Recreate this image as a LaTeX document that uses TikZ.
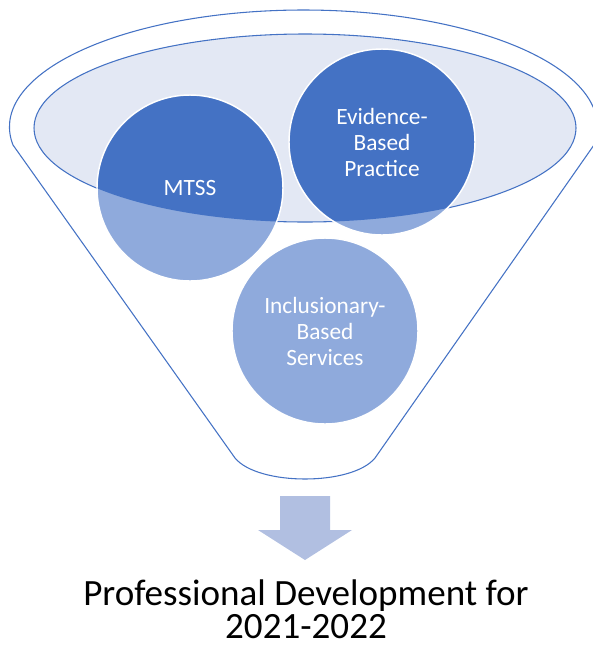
\documentclass[tikz,border=0pt]{standalone}
\usepackage{fontspec}
\setmainfont{Carlito}
\usetikzlibrary{backgrounds}
\definecolor{deepblue}{HTML}{4472C4}
\definecolor{softblue}{HTML}{8FAADC}
\definecolor{paleblue}{HTML}{E3E8F4}
\definecolor{arrowblue}{HTML}{B1BFE1}

\begin{document}
\begin{tikzpicture}[x=0.75pt, y=-0.75pt]
  \tikzstyle{bubble} = [circle, draw=white, line width=1.1pt, minimum size=139.5pt,
                        inner sep=0pt, align=center, text=white,
                        font=\fontsize{17.5}{19.5}\selectfont]
  \tikzstyle{rim} = [draw=deepblue, line width=0.8pt]

\useasboundingbox (0,0) rectangle (593,647);
\node[bubble] (mtss) at (190,188) {MTSS};
\node[bubble, right of=mtss, node distance=144pt, yshift=34.5pt] (ebp) {Evidence-\\Based\\Practice};
\node[bubble, below of=mtss, node distance=107.25pt, xshift=101.25pt] (ibs) {Inclusionary-\\Based\\Services};
\node[inner sep=0pt, align=center, font=\fontsize{27.8}{25}\selectfont] (pd) at (306,609) {Professional Development for\\2021-2022};
\begin{pgfonlayer}{background}
  \draw[rim] (13,145) arc[start angle=171.15, end angle=368.85, x radius=294, y radius=117]
    -- (375,458) .. controls (352,486) and (258,486) .. (235,458) -- cycle;
  \filldraw[rim, fill=paleblue] (305,128) ellipse [x radius=271, y radius=94];
  \foreach \c in {mtss, ebp, ibs}
    \fill[softblue] (\c) circle [radius=93];
  \begin{scope}
    \clip (305,128) ellipse [x radius=271, y radius=94];
    \fill[deepblue] (mtss) circle [radius=93] (ebp) circle [radius=93];
  \end{scope}
  \fill[arrowblue] (280,496) -- (330,496) -- (330,530) -- (352,530) -- (305,560) -- (258,530) -- (280,530) -- cycle;
\end{pgfonlayer}
\end{tikzpicture}
\end{document}
